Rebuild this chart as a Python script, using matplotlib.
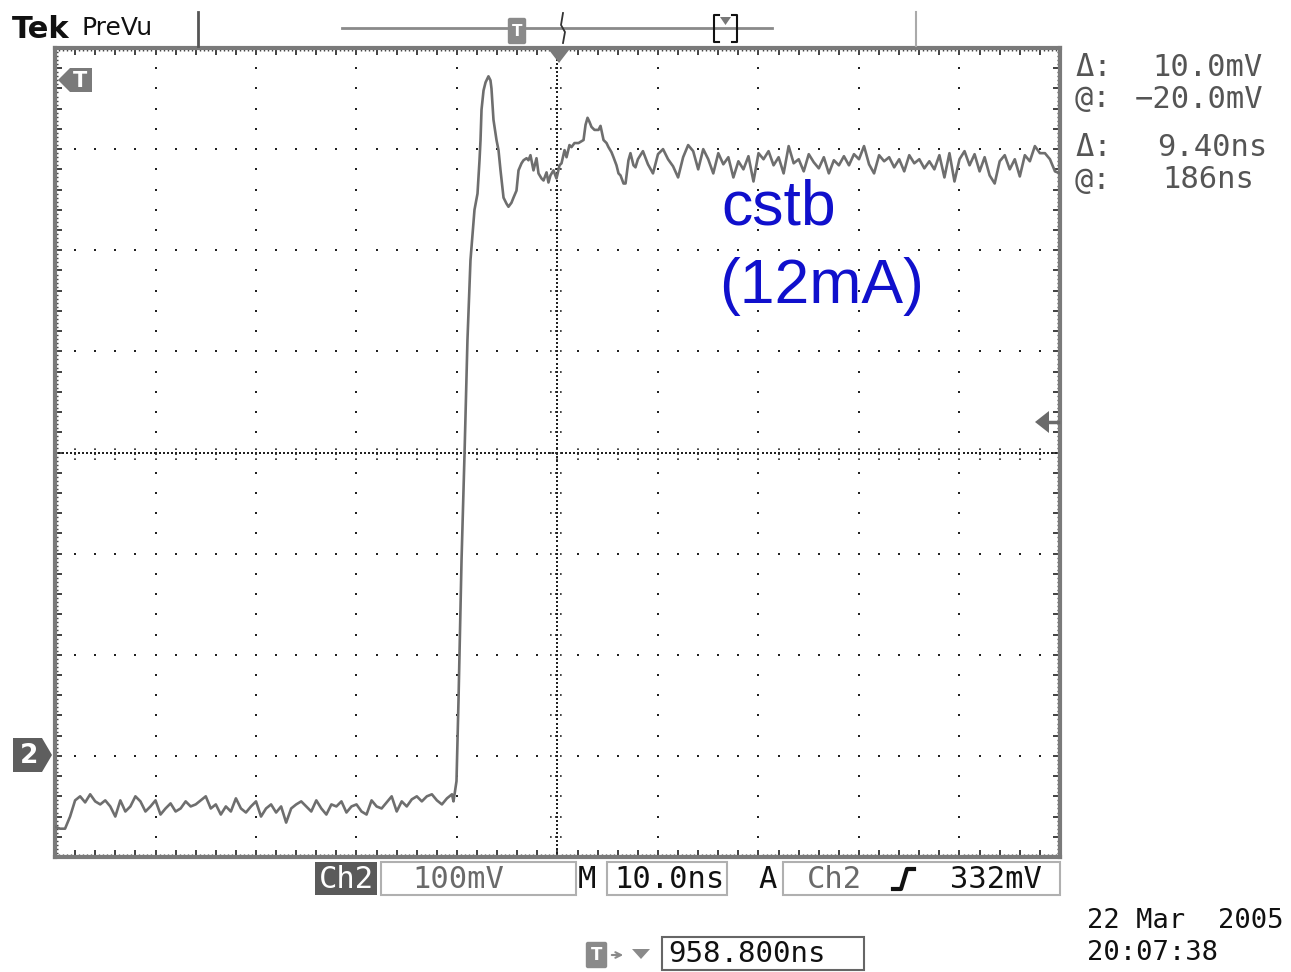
import numpy as np
import matplotlib
matplotlib.use("Agg")
import matplotlib.pyplot as plt
from matplotlib.patches import Polygon, Rectangle, FancyBboxPatch

# ---------------- data (ns, mV relative to Ch2 ground) ----------------
sample_ns = 0.5
pre_start_ns = -50.0
pre_mv = [-70, -72, -72, -60, -44, -40, -46, -38, -45, -48,
          -44, -50, -60, -44, -55, -50, -40, -45, -55, -50,
          -44, -58, -52, -47, -55, -52, -45, -50, -48, -44,
          -40, -52, -48, -58, -50, -55, -42, -52, -56, -50,
          -45, -60, -52, -48, -56, -50, -66, -52, -48, -45,
          -50, -55, -44, -52, -58, -48, -50, -45, -56, -50,
          -48, -55, -58, -44, -50, -52, -46, -40, -55, -45,
          -50, -43, -40, -45, -40, -38, -44, -48, -42, -38]

edge_t = [-10.35, -10.05, -9.85, -9.55, -9.25, -8.96, -8.66, -8.26, -7.96, -7.76,
          -7.66, -7.56, -7.36, -7.16, -6.87, -6.67, -6.57, -6.37, -6.07, -5.87,
          -5.67, -5.37, -5.07, -4.88, -4.58, -4.38, -4.08, -3.88, -3.58, -3.38,
          -3.08, -2.89, -2.69, -2.39, -2.09, -1.89, -1.59, -1.39, -1.09, -0.90,
          -0.70, -0.40, -0.10, 0.20, 0.40, 0.70, 0.90, 1.19, 1.39, 1.69,
          2.09, 2.59, 2.79, 2.99, 3.18, 3.38, 3.68, 4.08, 4.28, 4.58,
          4.88, 5.07, 5.37, 5.57, 5.87, 6.07, 6.27, 6.57, 6.77, 7.06,
          7.26, 7.56, 7.76]
edge_mv = [-45, -25, 55, 193, 299, 411, 490, 540, 556, 589,
           609, 639, 658, 666, 672, 668, 660, 629, 609, 599,
           579, 552, 546, 543, 547, 552, 559, 579, 586, 589,
           591, 589, 594, 579, 591, 576, 571, 569, 577, 567,
           574, 579, 571, 584, 586, 599, 592, 604, 602, 606,
           606, 609, 624, 631, 627, 622, 619, 619, 623, 609,
           606, 602, 597, 592, 584, 576, 574, 566, 566, 589,
           596, 584, 582]

post_start_ns = 8.0
post_mv = [590, 598, 585, 576, 595, 600, 590, 583, 572, 592,
           604, 598, 580, 600, 590, 576, 596, 585, 592, 572,
           588, 580, 593, 568, 596, 590, 598, 584, 592, 576,
           603, 586, 590, 578, 595, 587, 581, 592, 576, 589,
           584, 593, 584, 595, 590, 603, 585, 576, 594, 588,
           592, 582, 590, 578, 594, 586, 590, 581, 588, 580,
           594, 572, 596, 568, 590, 598, 584, 595, 578, 592,
           574, 566, 588, 594, 580, 590, 573, 594, 588, 603,
           596, 596, 590, 578, 576]

label_lines = ["cstb", "(12mA)"]
readouts = [("\u0394:", "10.0mV"), ("@:", "\u221220.0mV"), ("\u0394:", "9.40ns"), ("@:", "186ns")]
ch_scale = "100mV"
time_scale = "10.0ns"
trig_src = "Ch2"
trig_level = "332mV"
trig_pos = "958.800ns"
date_str = "22 Mar  2005"
time_str = "20:07:38"

t_ns = np.concatenate([pre_start_ns + np.arange(len(pre_mv)) * sample_ns,
                       np.array(edge_t),
                       post_start_ns + np.arange(len(post_mv)) * sample_ns])
v_mv = np.concatenate([pre_mv, edge_mv, post_mv]).astype(float)

# ---------------- figure ----------------
W, H = 1291, 972
fig = plt.figure(figsize=(W / 100, H / 100), dpi=100)
fig.patch.set_facecolor("white")

L, R, T, B = 55, 1060, 48, 857
ax = fig.add_axes([L / W, 1 - B / H, (R - L) / W, (B - T) / H])
ax.set_xlim(-50, 50)
ax.set_ylim(-100, 700)
ax.set_facecolor("white")
for s in ax.spines.values():
    s.set_color("#7a7a7a")
    s.set_linewidth(3)
ax.set_xticks(np.arange(-50, 50.01, 2))
ax.set_yticks(np.arange(-100, 700.01, 20))
ax.set_xticks(np.arange(-50, 50.01, 0.4), minor=True)
ax.set_yticks(np.arange(-100, 700.01, 4), minor=True)
ax.tick_params(which="major", direction="in", length=5, width=1.2, color="#222222",
               top=True, right=True, labelbottom=False, labelleft=False)
ax.tick_params(which="minor", direction="in", length=2, width=1, color="#444444",
               top=True, right=True)

dot_kw = dict(marker="s", s=3, color="#222222", linewidths=0, zorder=2)
# graticule dots
for xv in np.arange(-40, 41, 10):
    if xv == 0:
        continue
    yy = np.arange(-100, 701, 20)
    ax.scatter(np.full_like(yy, xv, dtype=float), yy, **dot_kw)
for yv in np.arange(0, 601, 100):
    if yv == 300:
        continue
    xx = np.arange(-50, 50.1, 2)
    ax.scatter(xx, np.full_like(xx, yv, dtype=float), **dot_kw)
# center cross
yy = np.arange(-100, 700.1, 4)
ax.scatter(np.zeros_like(yy), yy, **dot_kw)
xx = np.arange(-50, 50.1, 0.4)
ax.scatter(xx, np.full_like(xx, 300.0), **dot_kw)
for yv in np.arange(-100, 700.1, 20):
    ax.plot([-0.7, 0.7], [yv, yv], color="#222222", lw=1.2, ls=(0, (1, 2)), zorder=2)
for xv in np.arange(-50, 50.1, 2):
    ax.plot([xv, xv], [293, 307], color="#222222", lw=1.2, ls=(0, (1, 2)), zorder=2)

# waveform
ax.plot(t_ns, v_mv, color="#6e6e6e", lw=1.9, zorder=3)

# ---------------- overlay for screen decorations ----------------
ov = fig.add_axes([0, 0, 1, 1], zorder=5)
ov.set_xlim(0, W)
ov.set_ylim(H, 0)
ov.axis("off")
ov.patch.set_alpha(0)

mono = "DejaVu Sans Mono"
gray_txt = "#555555"

# header
ov.text(12, 30, "Tek", fontsize=22, fontweight="bold", family="DejaVu Sans", va="center", ha="left", color="#111111")
ov.text(82, 28, "PreVu", fontsize=18, family="DejaVu Sans", va="center", ha="left", color="#111111")
ov.plot([198, 198], [12, 46], color="#555555", lw=2)
ov.plot([916, 916], [12, 46], color="#aaaaaa", lw=1.5)
ov.plot([342, 772], [28, 28], color="#8a8a8a", lw=2)
ov.add_patch(FancyBboxPatch((510, 20), 14, 22, boxstyle="round,pad=1.5", fc="#8a8a8a", ec="#8a8a8a"))
ov.text(517, 32, "T", color="white", fontsize=11, fontweight="bold", ha="center", va="center")
ov.plot([563, 561, 565, 563], [13, 25, 32, 43], color="#333333", lw=1.3)
ov.plot([719, 714, 714, 719], [15, 15, 42, 42], color="#111111", lw=1.5)
ov.plot([732, 737, 737, 732], [15, 15, 42, 42], color="#111111", lw=1.5)
ov.add_patch(Polygon([[720, 17], [731, 17], [725.5, 25]], closed=True, fc="#777777", ec="none"))
# trigger position triangle on top of graticule
ov.add_patch(Polygon([[549, 50], [569, 50], [559, 63]], closed=True, fc="#7a7a7a", ec="none"))

# left T marker
ov.add_patch(Polygon([[58, 80], [70, 68], [92, 68], [92, 92], [70, 92]], closed=True, fc="#7a7a7a", ec="none"))
ov.text(80, 81, "T", color="white", fontsize=15, fontweight="bold", ha="center", va="center")
# channel 2 ground marker
ov.add_patch(Polygon([[13, 738], [42, 738], [52, 755], [42, 772], [13, 772]], closed=True, fc="#5e5e5e", ec="none"))
ov.text(29, 756, "2", color="white", fontsize=19, fontweight="bold", ha="center", va="center")
# trigger level arrow
ov.add_patch(Polygon([[1035, 422], [1049, 411], [1049, 433]], closed=True, fc="#6a6a6a", ec="none"))
ov.plot([1046, 1058], [422, 422], color="#6a6a6a", lw=2.5)

# readouts
ry = [68, 99, 148, 180]
rx = [1152, 1135, 1157, 1162]
for (sym, val), y, x in zip(readouts, ry, rx):
    ov.text(1075, y, sym, family=mono, fontsize=22, color=gray_txt, ha="left", va="center")
    ov.text(x, y, val, family=mono, fontsize=22, color=gray_txt, ha="left", va="center")

# label
ov.text(721, 208, label_lines[0], fontsize=45, family="Liberation Sans", color="#1010cc", ha="left", va="center")
ov.text(719, 286, label_lines[1], fontsize=45, family="Liberation Sans", color="#1010cc", ha="left", va="center")

# bottom status bar
ov.add_patch(Rectangle((315, 862), 62, 33, fc="#5a5a5a", ec="none"))
ov.text(346, 879, "Ch2", family=mono, fontsize=22, color="white", ha="center", va="center")
ov.add_patch(Rectangle((381, 862), 195, 33, fc="none", ec="#b0b0b0", lw=1.5))
ov.text(412, 879, ch_scale, family=mono, fontsize=22, color="#6a6a6a", ha="left", va="center")
ov.text(578, 879, "M", family=mono, fontsize=22, color="#111111", ha="left", va="center")
ov.add_patch(Rectangle((607, 862), 120, 33, fc="none", ec="#b0b0b0", lw=1.5))
ov.text(614, 879, time_scale, family=mono, fontsize=22, color="#111111", ha="left", va="center")
ov.text(758, 879, "A", family=mono, fontsize=22, color="#111111", ha="left", va="center")
ov.add_patch(Rectangle((783, 862), 277, 33, fc="none", ec="#b0b0b0", lw=1.5))
ov.text(807, 879, trig_src, family=mono, fontsize=22, color="#6a6a6a", ha="left", va="center")
ov.plot([893, 901, 907, 914], [889, 889, 869, 869], color="#111111", lw=3)
ov.text(950, 879, trig_level, family=mono, fontsize=22, color="#111111", ha="left", va="center")

# trigger position readout
ov.add_patch(FancyBboxPatch((588, 944), 17, 22, boxstyle="round,pad=1.5", fc="#8a8a8a", ec="#8a8a8a"))
ov.text(596.5, 955, "T", color="white", fontsize=12, fontweight="bold", ha="center", va="center")
ov.annotate("", xy=(626, 955), xytext=(609, 955),
            arrowprops=dict(arrowstyle="->", color="#8a8a8a", lw=1.5))
ov.add_patch(Polygon([[632, 949], [650, 949], [641, 959]], closed=True, fc="#8a8a8a", ec="none"))
ov.add_patch(Rectangle((662, 937), 202, 33, fc="none", ec="#666666", lw=1.5))
ov.text(668, 954, trig_pos, family=mono, fontsize=21, color="#111111", ha="left", va="center")

ov.text(1087, 921, date_str, family=mono, fontsize=19.5, color="#111111", ha="left", va="center")
ov.text(1087, 953, time_str, family=mono, fontsize=19.5, color="#111111", ha="left", va="center")

fig.savefig("out.png", dpi=100, facecolor="white")
